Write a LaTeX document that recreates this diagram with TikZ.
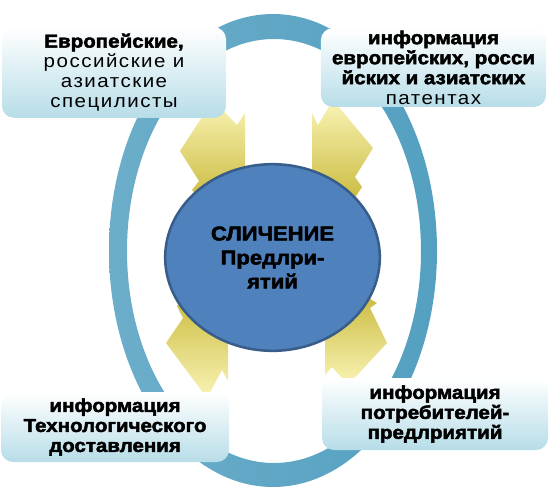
\documentclass[tikz,border=0pt]{standalone}
\usepackage{fontspec}
\setmainfont{Liberation Sans}[FakeStretch=1.1, BoldFeatures={FakeBold=2.5}]
\newfontfamily\spacedfont{Liberation Sans}[FakeStretch=1.1, LetterSpace=8]
\usepackage{tikz}
\usetikzlibrary{shapes.geometric}

\definecolor{ringblue}{RGB}{84,160,192}
\definecolor{ringlight}{RGB}{108,174,202}
\definecolor{boxblue}{RGB}{183,221,232}
\definecolor{hubblue}{RGB}{79,129,189}
\definecolor{hubedge}{RGB}{56,93,138}
\definecolor{arrowpale}{RGB}{250,244,182}
\definecolor{arrowdark}{RGB}{200,184,58}

\begin{document}
\begin{tikzpicture}[x=0.75pt,y=-0.75pt,
    info_box/.style={rounded corners=9pt,top color=white,bottom color=boxblue,align=center,inner sep=0pt,font=\bfseries\fontsize{14}{15}\selectfont},
    hub_node/.style={ellipse,fill=hubblue,draw=hubedge,line width=1.9pt,inner sep=0pt,minimum width=161pt,minimum height=140pt,align=center,font=\bfseries\fontsize{15}{18}\selectfont},
    arrow_in/.style={top color=arrowpale,bottom color=arrowdark},
    arrow_out/.style={top color=arrowdark,bottom color=arrowpale}]

    \useasboundingbox (0,0) rectangle (558,497);

    % outer ring
    \shade[left color=ringlight,right color=ringblue,even odd rule]
      (273,250.5) ellipse [x radius=164,y radius=236.5]
      (274,251) ellipse [x radius=147,y radius=212];

    % yellow arrows
    \shade[arrow_in] (213,100) -- (237,125) -- (245,113) -- (245,205) -- (205,205) -- (192,190) -- (199,181) -- (180,151) -- cycle;
    \shade[arrow_in] (333,100) -- (373,148) -- (355,177) -- (362,187) -- (350,205) -- (312,205) -- (312,113) -- (318,125) -- cycle;
    \shade[arrow_out] (190,290) -- (228,310) -- (228,381) -- (222,370) -- (207,398) -- (166,343) -- (183,318) -- (177,306) -- cycle;
    \shade[arrow_out] (355,290) -- (377,303) -- (370,308) -- (387,343) -- (348,385) -- (332,367) -- (325,375) -- (325,310) -- cycle;

    \node[hub_node] (c) at (272.5,257.5) {СЛИЧЕНИЕ\\Предлри-\\ятий};

    \node[info_box,minimum width=168pt,minimum height=68pt] (1) at (114,72.5)
      {Европейские,\\{\mdseries\spacedfont российские и}\\{\mdseries\spacedfont азиатские}\\{\mdseries\spacedfont специлисты}};
    \node[info_box,minimum width=169pt,minimum height=59pt] (2) at (433.5,67.5)
      {информация\\европейских, росси\\йских и азиатских\\{\mdseries\spacedfont патентах}};
    \node[info_box,minimum width=171pt,minimum height=52.5pt] (3) at (115,427)
      {информация\\Технологического\\доставления};
    \node[info_box,minimum width=169.5pt,minimum height=54pt] (4) at (435,414)
      {информация\\потребителей-\\предлриятий};
\end{tikzpicture}
\end{document}
